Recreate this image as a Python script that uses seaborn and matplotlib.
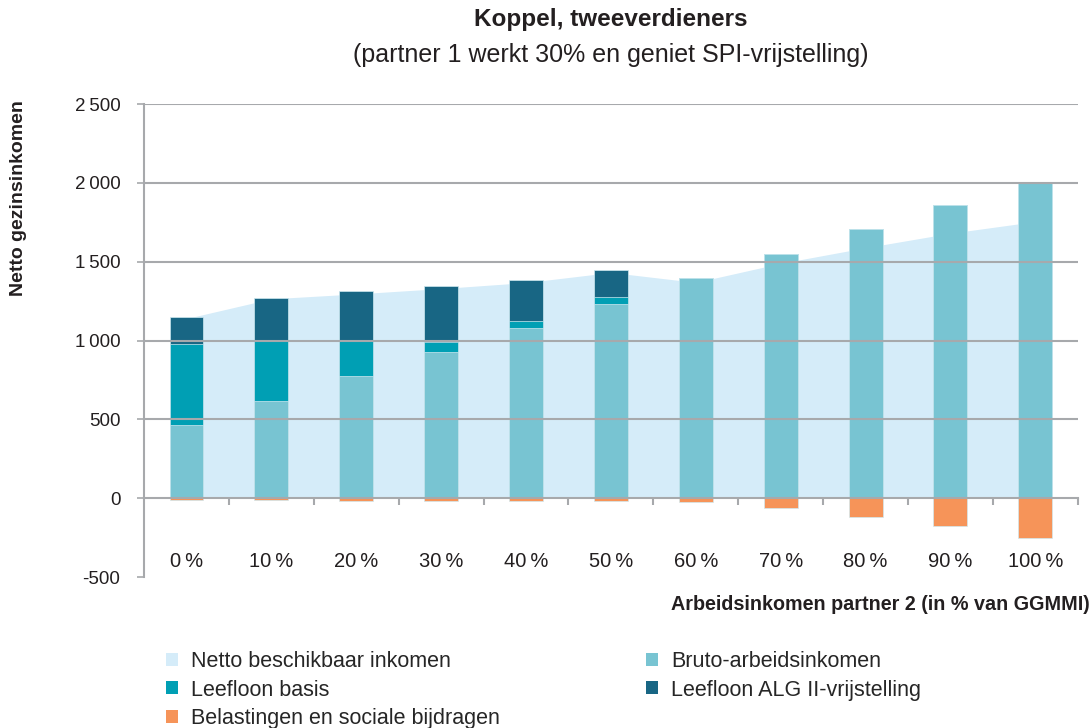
import numpy as np
import pandas as pd
import matplotlib
matplotlib.use("Agg")
import matplotlib.pyplot as plt
import seaborn as sns
from matplotlib.patches import Patch

# ---------------- data ----------------
categories = ["0\u2009%", "10\u2009%", "20\u2009%", "30\u2009%", "40\u2009%", "50\u2009%",
              "60\u2009%", "70\u2009%", "80\u2009%", "90\u2009%", "100\u2009%"]
netto = [1140, 1265, 1296, 1330, 1368, 1432, 1369, 1490, 1589, 1681, 1755]
bruto = [463, 615, 772, 926, 1079, 1233, 1396, 1550, 1707, 1859, 2007]
leefloon_basis = [512, 383, 226, 68, 42, 42, 0, 0, 0, 0, 0]
leefloon_alg = [175, 275, 315, 353, 264, 174, 0, 0, 0, 0, 0]
belasting = [-10, -10, -17, -17, -17, -17, -27, -60, -118, -178, -252]

yticks = [-500, 0, 500, 1000, 1500, 2000, 2500]
ytick_labels = ["-500", "0", "500", "1\u2009000", "1\u2009500", "2\u2009000", "2\u2009500"]

labels = {
    "netto": "Netto beschikbaar inkomen",
    "bruto": "Bruto-arbeidsinkomen",
    "basis": "Leefloon basis",
    "alg": "Leefloon ALG II-vrijstelling",
    "tax": "Belastingen en sociale bijdragen",
}
colors = {
    "netto": "#d5ecf9",
    "bruto": "#78c4d2",
    "basis": "#009fb4",
    "alg": "#186684",
    "tax": "#f69459",
}
grey = "#a7a9ac"
txt = "#231f20"

# ---------------- styling ----------------
sns.set_theme(style="white")
plt.rcParams["font.family"] = ["Liberation Sans", "DejaVu Sans"]

df = pd.DataFrame({
    "cat": categories,
    "bruto": bruto,
    "b_basis": np.array(bruto) + np.array(leefloon_basis),
    "b_alg": np.array(bruto) + np.array(leefloon_basis) + np.array(leefloon_alg),
    "tax": belasting,
})

fig = plt.figure(figsize=(10.92, 7.28), dpi=100)
ax = fig.add_axes([0.1319, 0.2074, 0.987 - 0.1319, 0.857 - 0.2074])

bar_w = 0.4
xpos = np.arange(len(categories))

# area (net disposable income) behind bars
area_x = np.concatenate([[xpos[0] - bar_w / 2], xpos, [xpos[-1] + bar_w / 2]])
area_y = np.concatenate([[netto[0]], netto, [netto[-1]]])
ax.fill_between(area_x, 0, area_y, color=colors["netto"], lw=0, zorder=1)

# stacked bars drawn as overlapping cumulative bars
common = dict(x="cat", order=categories, width=bar_w, ax=ax, saturation=1,
              edgecolor="#cfe9f0", linewidth=0.5, zorder=3)
sns.barplot(data=df, y="b_alg", color=colors["alg"], **common)
sns.barplot(data=df, y="b_basis", color=colors["basis"], **common)
sns.barplot(data=df, y="bruto", color=colors["bruto"], **common)
sns.barplot(data=df, y="tax", color=colors["tax"], **common)

# axes
ax.set_xlim(-0.5, 10.5)
ax.set_ylim(-500, 2500)
ax.set_yticks(yticks)
ax.set_yticklabels(ytick_labels)
ax.set_xticks(xpos)
ax.set_xticklabels(categories)
ax.set_xticks(xpos + 0.5, minor=True)
ax.tick_params(axis="x", which="major", length=0, pad=39, labelsize=14.5, labelcolor=txt)
ax.tick_params(axis="x", which="minor", length=5, width=1.5, color=grey, direction="out", bottom=True)
ax.tick_params(axis="y", which="major", length=5, width=1.2, color=grey, direction="out", left=True,
               pad=12, labelsize=13.5, labelcolor=txt)
ax.set_xlabel("")
ax.set_ylabel("")

for s in ["top", "right"]:
    ax.spines[s].set_visible(False)
ax.spines["left"].set_color(grey)
ax.spines["left"].set_linewidth(1.5)
ax.spines["bottom"].set_position(("data", 0))
ax.spines["bottom"].set_color(grey)
ax.spines["bottom"].set_linewidth(1.5)
ax.spines["bottom"].set_zorder(4)

for yv in yticks:
    if yv > 0:
        ax.axhline(yv, color=grey, lw=1.5, zorder=4)

# titles
fig.text(0.5595, 0.973, "Koppel, tweeverdieners", ha="center", va="center",
         fontsize=17.5, fontweight="bold", color=txt)
fig.text(0.5595, 0.924, "(partner 1 werkt 30% en geniet SPI-vrijstelling)", ha="center",
         va="center", fontsize=18, color=txt)
fig.text(0.0165, 0.863, "Netto gezinsinkomen", rotation=90, ha="center", va="top",
         fontsize=14, fontweight="bold", color=txt)
fig.text(0.998, 0.169, "Arbeidsinkomen partner 2 (in % van GGMMI)", ha="right", va="center",
         fontsize=14.2, fontweight="bold", color=txt)

# legend
order = ["netto", "basis", "tax", "bruto", "alg"]
handles = [Patch(facecolor=colors[k], edgecolor="none", label=labels[k]) for k in order]
fig.legend(handles=handles, loc="upper left", bbox_to_anchor=(0.152, 0.106), ncol=2,
           frameon=False, fontsize=15.5, handlelength=0.55, handleheight=0.55,
           handletextpad=0.6, labelspacing=0.36, columnspacing=6.8,
           borderpad=0, borderaxespad=0)

fig.savefig("out.png", dpi=100)
